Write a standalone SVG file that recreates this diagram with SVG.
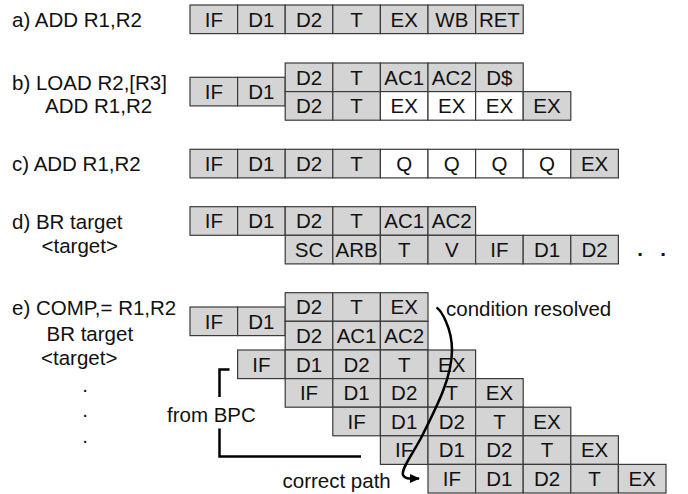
<svg xmlns="http://www.w3.org/2000/svg" width="688" height="494" viewBox="0 0 688 494">
<defs>
<style>
text{font-family:"Liberation Sans",Arial,sans-serif;font-size:20.5px;fill:#111}
.c{text-anchor:middle}
.g{fill:#d4d4d4;stroke:#3a3a3a;stroke-width:1.2}
.w{fill:#ffffff;stroke:#3a3a3a;stroke-width:1.2}
.ln{fill:none;stroke:#000;stroke-width:2.5}
</style>
<marker id="ah" markerWidth="10" markerHeight="10" refX="9" refY="5" orient="auto" markerUnits="userSpaceOnUse">
<path d="M0,0.5 L10,5 L0,9.5 Z" fill="#000"/>
</marker>
</defs>
<rect width="688" height="494" fill="#fff"/>

<g id="labels">
<text x="12" y="27">a) ADD R1,R2</text>
<text x="12" y="90">b) LOAD R2,[R3]</text>
<text x="45" y="113">ADD R1,R2</text>
<text x="12" y="170.5">c) ADD R1,R2</text>
<text x="12" y="229">d) BR target</text>
<text x="41.5" y="253">&lt;target&gt;</text>
<text x="12" y="315">e) COMP,= R1,R2</text>
<text x="46.5" y="341">BR target</text>
<text x="41" y="365">&lt;target&gt;</text>
<text class="c" x="85" y="391.5">.</text>
<text class="c" x="85" y="417">.</text>
<text class="c" x="85" y="443">.</text>
</g>

<g id="rowA">
<rect class="g" x="190" y="5" width="47.6" height="28.6"/><text class="c" x="213.8" y="26.6">IF</text>
<rect class="g" x="237.6" y="5" width="47.6" height="28.6"/><text class="c" x="261.4" y="26.6">D1</text>
<rect class="g" x="285.2" y="5" width="47.6" height="28.6"/><text class="c" x="309" y="26.6">D2</text>
<rect class="g" x="332.8" y="5" width="47.6" height="28.6"/><text class="c" x="356.6" y="26.6">T</text>
<rect class="g" x="380.4" y="5" width="47.6" height="28.6"/><text class="c" x="404.2" y="26.6">EX</text>
<rect class="g" x="428" y="5" width="47.6" height="28.6"/><text class="c" x="451.8" y="26.6">WB</text>
<rect class="g" x="475.6" y="5" width="47.6" height="28.6"/><text class="c" x="499.4" y="26.6">RET</text>
</g>

<g id="rowB">
<rect class="g" x="190" y="77.3" width="47.6" height="28.6"/><text class="c" x="213.8" y="98.9">IF</text>
<rect class="g" x="237.6" y="77.3" width="47.6" height="28.6"/><text class="c" x="261.4" y="98.9">D1</text>
<rect class="g" x="285.2" y="63" width="47.6" height="28.6"/><text class="c" x="309" y="84.6">D2</text>
<rect class="g" x="332.8" y="63" width="47.6" height="28.6"/><text class="c" x="356.6" y="84.6">T</text>
<rect class="g" x="380.4" y="63" width="47.6" height="28.6"/><text class="c" x="404.2" y="84.6">AC1</text>
<rect class="g" x="428" y="63" width="47.6" height="28.6"/><text class="c" x="451.8" y="84.6">AC2</text>
<rect class="g" x="475.6" y="63" width="47.6" height="28.6"/><text class="c" x="499.4" y="84.6">D$</text>
<rect class="g" x="285.2" y="91.6" width="47.6" height="28.6"/><text class="c" x="309" y="113.2">D2</text>
<rect class="g" x="332.8" y="91.6" width="47.6" height="28.6"/><text class="c" x="356.6" y="113.2">T</text>
<rect class="w" x="380.4" y="91.6" width="47.6" height="28.6"/><text class="c" x="404.2" y="113.2">EX</text>
<rect class="w" x="428" y="91.6" width="47.6" height="28.6"/><text class="c" x="451.8" y="113.2">EX</text>
<rect class="w" x="475.6" y="91.6" width="47.6" height="28.6"/><text class="c" x="499.4" y="113.2">EX</text>
<rect class="g" x="523.2" y="91.6" width="47.6" height="28.6"/><text class="c" x="547" y="113.2">EX</text>
</g>

<g id="rowC">
<rect class="g" x="190" y="149.3" width="47.6" height="28.6"/><text class="c" x="213.8" y="170.9">IF</text>
<rect class="g" x="237.6" y="149.3" width="47.6" height="28.6"/><text class="c" x="261.4" y="170.9">D1</text>
<rect class="g" x="285.2" y="149.3" width="47.6" height="28.6"/><text class="c" x="309" y="170.9">D2</text>
<rect class="g" x="332.8" y="149.3" width="47.6" height="28.6"/><text class="c" x="356.6" y="170.9">T</text>
<rect class="w" x="380.4" y="149.3" width="47.6" height="28.6"/><text class="c" x="404.2" y="170.9">Q</text>
<rect class="w" x="428" y="149.3" width="47.6" height="28.6"/><text class="c" x="451.8" y="170.9">Q</text>
<rect class="w" x="475.6" y="149.3" width="47.6" height="28.6"/><text class="c" x="499.4" y="170.9">Q</text>
<rect class="w" x="523.2" y="149.3" width="47.6" height="28.6"/><text class="c" x="547" y="170.9">Q</text>
<rect class="g" x="570.8" y="149.3" width="47.6" height="28.6"/><text class="c" x="594.6" y="170.9">EX</text>
</g>

<g id="rowD">
<rect class="g" x="190" y="206.7" width="47.6" height="28.6"/><text class="c" x="213.8" y="228.3">IF</text>
<rect class="g" x="237.6" y="206.7" width="47.6" height="28.6"/><text class="c" x="261.4" y="228.3">D1</text>
<rect class="g" x="285.2" y="206.7" width="47.6" height="28.6"/><text class="c" x="309" y="228.3">D2</text>
<rect class="g" x="332.8" y="206.7" width="47.6" height="28.6"/><text class="c" x="356.6" y="228.3">T</text>
<rect class="g" x="380.4" y="206.7" width="47.6" height="28.6"/><text class="c" x="404.2" y="228.3">AC1</text>
<rect class="g" x="428" y="206.7" width="47.6" height="28.6"/><text class="c" x="451.8" y="228.3">AC2</text>
<rect class="g" x="285.2" y="235.3" width="47.6" height="28.6"/><text class="c" x="309" y="256.9">SC</text>
<rect class="g" x="332.8" y="235.3" width="47.6" height="28.6"/><text class="c" x="356.6" y="256.9">ARB</text>
<rect class="g" x="380.4" y="235.3" width="47.6" height="28.6"/><text class="c" x="404.2" y="256.9">T</text>
<rect class="g" x="428" y="235.3" width="47.6" height="28.6"/><text class="c" x="451.8" y="256.9">V</text>
<rect class="g" x="475.6" y="235.3" width="47.6" height="28.6"/><text class="c" x="499.4" y="256.9">IF</text>
<rect class="g" x="523.2" y="235.3" width="47.6" height="28.6"/><text class="c" x="547" y="256.9">D1</text>
<rect class="g" x="570.8" y="235.3" width="47.6" height="28.6"/><text class="c" x="594.6" y="256.9">D2</text>
<text class="c" x="640" y="256" font-weight="bold">.</text>
<text class="c" x="663" y="256" font-weight="bold">.</text>
</g>

<g id="rowE1">
<rect class="g" x="190" y="307" width="47.6" height="28.6"/><text class="c" x="213.8" y="328.6">IF</text>
<rect class="g" x="237.6" y="307" width="47.6" height="28.6"/><text class="c" x="261.4" y="328.6">D1</text>
<rect class="g" x="285.2" y="292.7" width="47.6" height="28.6"/><text class="c" x="309" y="314.3">D2</text>
<rect class="g" x="332.8" y="292.7" width="47.6" height="28.6"/><text class="c" x="356.6" y="314.3">T</text>
<rect class="g" x="380.4" y="292.7" width="47.6" height="28.6"/><text class="c" x="404.2" y="314.3">EX</text>
</g>
<g id="rowE2">
<rect class="g" x="285.2" y="321.3" width="47.6" height="28.6"/><text class="c" x="309" y="342.9">D2</text>
<rect class="g" x="332.8" y="321.3" width="47.6" height="28.6"/><text class="c" x="356.6" y="342.9">AC1</text>
<rect class="g" x="380.4" y="321.3" width="47.6" height="28.6"/><text class="c" x="404.2" y="342.9">AC2</text>
</g>
<g id="rowE3">
<rect class="g" x="237.6" y="350" width="47.6" height="28.6"/><text class="c" x="261.4" y="371.6">IF</text>
<rect class="g" x="285.2" y="350" width="47.6" height="28.6"/><text class="c" x="309" y="371.6">D1</text>
<rect class="g" x="332.8" y="350" width="47.6" height="28.6"/><text class="c" x="356.6" y="371.6">D2</text>
<rect class="g" x="380.4" y="350" width="47.6" height="28.6"/><text class="c" x="404.2" y="371.6">T</text>
<rect class="g" x="428" y="350" width="47.6" height="28.6"/><text class="c" x="451.8" y="371.6">EX</text>
</g>
<g id="rowE4">
<rect class="g" x="285.2" y="378.6" width="47.6" height="28.6"/><text class="c" x="309" y="400.2">IF</text>
<rect class="g" x="332.8" y="378.6" width="47.6" height="28.6"/><text class="c" x="356.6" y="400.2">D1</text>
<rect class="g" x="380.4" y="378.6" width="47.6" height="28.6"/><text class="c" x="404.2" y="400.2">D2</text>
<rect class="g" x="428" y="378.6" width="47.6" height="28.6"/><text class="c" x="451.8" y="400.2">T</text>
<rect class="g" x="475.6" y="378.6" width="47.6" height="28.6"/><text class="c" x="499.4" y="400.2">EX</text>
</g>
<g id="rowE5">
<rect class="g" x="332.8" y="407.2" width="47.6" height="28.6"/><text class="c" x="356.6" y="428.8">IF</text>
<rect class="g" x="380.4" y="407.2" width="47.6" height="28.6"/><text class="c" x="404.2" y="428.8">D1</text>
<rect class="g" x="428" y="407.2" width="47.6" height="28.6"/><text class="c" x="451.8" y="428.8">D2</text>
<rect class="g" x="475.6" y="407.2" width="47.6" height="28.6"/><text class="c" x="499.4" y="428.8">T</text>
<rect class="g" x="523.2" y="407.2" width="47.6" height="28.6"/><text class="c" x="547" y="428.8">EX</text>
</g>
<g id="rowE6">
<rect class="g" x="380.4" y="435.8" width="47.6" height="28.6"/><text class="c" x="404.2" y="457.4">IF</text>
<rect class="g" x="428" y="435.8" width="47.6" height="28.6"/><text class="c" x="451.8" y="457.4">D1</text>
<rect class="g" x="475.6" y="435.8" width="47.6" height="28.6"/><text class="c" x="499.4" y="457.4">D2</text>
<rect class="g" x="523.2" y="435.8" width="47.6" height="28.6"/><text class="c" x="547" y="457.4">T</text>
<rect class="g" x="570.8" y="435.8" width="47.6" height="28.6"/><text class="c" x="594.6" y="457.4">EX</text>
</g>
<g id="rowE7">
<rect class="g" x="428" y="464.4" width="47.6" height="28.6"/><text class="c" x="451.8" y="486">IF</text>
<rect class="g" x="475.6" y="464.4" width="47.6" height="28.6"/><text class="c" x="499.4" y="486">D1</text>
<rect class="g" x="523.2" y="464.4" width="47.6" height="28.6"/><text class="c" x="547" y="486">D2</text>
<rect class="g" x="570.8" y="464.4" width="47.6" height="28.6"/><text class="c" x="594.6" y="486">T</text>
<rect class="g" x="618.4" y="464.4" width="47.6" height="28.6"/><text class="c" x="642.2" y="486">EX</text>
</g>

<g id="connectors">
<path class="ln" d="M436.5,307.5 C441,310 452,328 452,350 C452,378 436,408 421,438 C412,455 401,469 403,475 C405,479.5 410,478.5 419,478.5" marker-end="url(#ah)"/>
<path class="ln" d="M229.5,369.5 H219.5 V397 M219.5,428.5 V456.5 H361"/>
</g>

<g id="annotations">
<text x="446" y="316">condition resolved</text>
<text x="167" y="421.5">from BPC</text>
<text x="282.5" y="488">correct path</text>
</g>
</svg>
